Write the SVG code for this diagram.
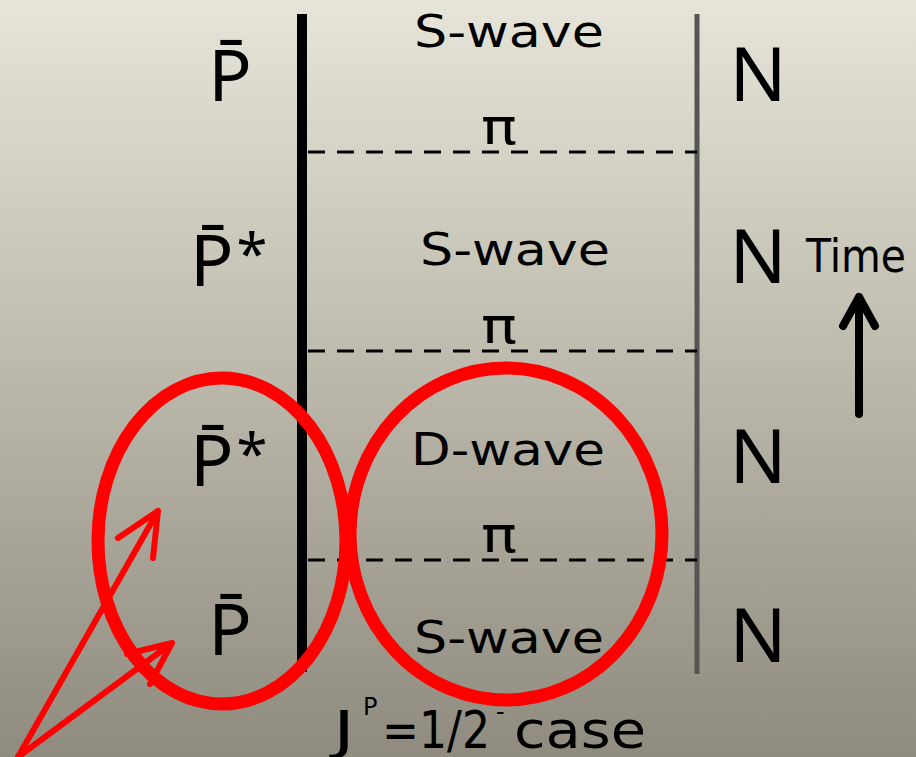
<svg xmlns="http://www.w3.org/2000/svg" width="916" height="757" viewBox="0 0 916 757">
  <defs>
    <linearGradient id="bg" x1="0" y1="0" x2="0" y2="1">
      <stop offset="0" stop-color="#e7e5d9"/>
      <stop offset="1" stop-color="#8f8b7e"/>
    </linearGradient>
    <style>
      text { font-family: "DejaVu Sans", "Noto Sans", sans-serif; fill: #000; }
      .mid { text-anchor: middle; }
      .sym { font-family: "Noto Sans", "DejaVu Sans", sans-serif; font-size: 72px; }
      .n { font-family: "Noto Sans", "DejaVu Sans", sans-serif; font-size: 75px; text-anchor: middle; }
      .wave { font-size: 44px; text-anchor: middle; }
      .pi { font-size: 50px; text-anchor: middle; }
      .dash { stroke: #000; stroke-width: 3; stroke-dasharray: 17 12; fill: none; }
      .ring { fill: none; stroke: #ff0000; stroke-width: 13; }
      .ptr { fill: none; stroke: #ff0000; stroke-width: 6; stroke-linecap: round; stroke-linejoin: round; }
    </style>
  </defs>

  <rect width="916" height="757" fill="url(#bg)"/>

  <!-- world lines, exchange lines and the time arrow -->
  <g id="connectors">
    <line x1="302" y1="14" x2="302" y2="672" stroke="#000" stroke-width="10"/>
    <line x1="697" y1="14" x2="697" y2="674" stroke="#555" stroke-width="5"/>
    <line class="dash" x1="308" y1="152" x2="697" y2="152"/>
    <line class="dash" x1="308" y1="351" x2="697" y2="351"/>
    <line class="dash" x1="308" y1="560" x2="697" y2="560"/>
    <path d="M859 414 V297 M843 326 L859 297 L875 326" fill="none" stroke="#000" stroke-width="8" stroke-linecap="round" stroke-linejoin="round"/>
  </g>

  <g id="pbar-1"><text class="sym mid" x="230" y="101">P̄</text></g>
  <g id="pbar-star-1"><text class="sym" x="190" y="286">P̄<tspan font-size="56" dx="3" dy="-12">*</tspan></text></g>
  <g id="pbar-star-2"><text class="sym" x="190" y="486">P̄<tspan font-size="56" dx="3" dy="-12">*</tspan></text></g>
  <g id="pbar-2"><text class="sym mid" x="230" y="655">P̄</text></g>

  <g id="wave-1"><text class="wave" x="509" y="47" textLength="190" lengthAdjust="spacingAndGlyphs">S-wave</text></g>
  <g id="wave-2"><text class="wave" x="515" y="265" textLength="190" lengthAdjust="spacingAndGlyphs">S-wave</text></g>
  <g id="wave-3"><text class="wave" x="508" y="465" font-size="48" textLength="194" lengthAdjust="spacingAndGlyphs">D-wave</text></g>
  <g id="wave-4"><text class="wave" x="509" y="653" textLength="190" lengthAdjust="spacingAndGlyphs">S-wave</text></g>

  <g id="pi-1"><text class="pi" x="499" y="144" textLength="36" lengthAdjust="spacingAndGlyphs">π</text></g>
  <g id="pi-2"><text class="pi" x="499" y="343" textLength="36" lengthAdjust="spacingAndGlyphs">π</text></g>
  <g id="pi-3"><text class="pi" x="499" y="552" textLength="36" lengthAdjust="spacingAndGlyphs">π</text></g>

  <g id="n-1"><text class="n" x="758" y="101">N</text></g>
  <g id="n-2"><text class="n" x="758" y="283">N</text></g>
  <g id="n-3"><text class="n" x="758" y="483">N</text></g>
  <g id="n-4"><text class="n" x="758" y="662">N</text></g>

  <g id="time"><text class="mid" x="856" y="272" font-size="46" textLength="100" lengthAdjust="spacingAndGlyphs">Time</text></g>

  <g id="caption">
    <text x="333" y="748" font-size="52" textLength="22" lengthAdjust="spacingAndGlyphs">J</text>
    <text x="363" y="715" font-size="24">P</text>
    <text x="382" y="748" font-size="52" textLength="108" lengthAdjust="spacingAndGlyphs">=1/2</text>
    <text x="496" y="720" font-size="24">-</text>
    <text x="514" y="748" font-size="52" textLength="132" lengthAdjust="spacingAndGlyphs">case</text>
  </g>

  <!-- highlight rings and pointers -->
  <g id="highlights">
    <ellipse class="ring" cx="222" cy="541" rx="124" ry="163"/>
    <ellipse class="ring" cx="506" cy="534" rx="156" ry="166"/>
    <path class="ptr" d="M18 757 L158 511 M118 538 L158 511 L153 558"/>
    <path class="ptr" d="M18 757 L172 643 M127 654 L172 643 L150 684"/>
  </g>
</svg>
